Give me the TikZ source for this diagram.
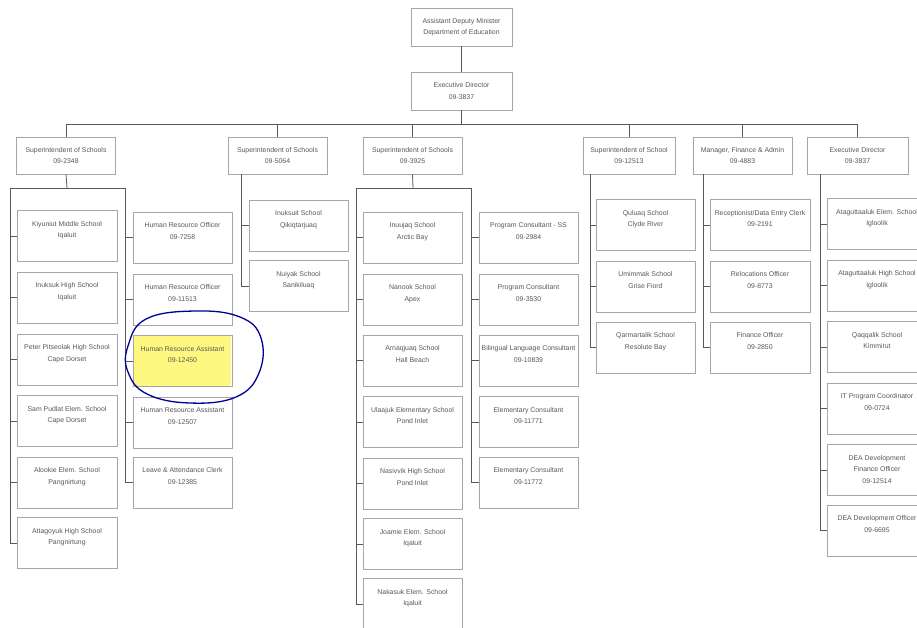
\documentclass[tikz,border=0pt]{standalone}
\usepackage{fontspec}
\setmainfont{Liberation Sans}
\begin{document}
\begin{tikzpicture}[x=1pt,y=-1pt,
  post/.style={draw=black!35, line width=0.7pt, fill=white, text=black!65, align=center,
    font=\fontsize{6.9}{11.5}\selectfont, inner sep=1pt},
  unit/.style={post, minimum width=100pt, minimum height=51pt, text depth=13pt},
  head/.style={post, minimum width=99pt, minimum height=37pt},
  link/.style={draw=black!65, line width=0.8pt}]

\useasboundingbox[fill=white] (0,0) rectangle (917,627);

% top of the chart
\node[post, minimum width=101pt, minimum height=38pt] (adm) at (461.5,27) {Assistant Deputy Minister\\Department of Education};
\node[post, minimum width=101pt, minimum height=38pt] (exec) at (461.5,91) {Executive Director\\09-3837};

\node[head] (sup1) at (66,155.5) {Superintendent of Schools\\09-2348};
\node[head] (sup2) at (277.5,155.5) {Superintendent of Schools\\09-5064};
\node[head] (sup3) at (412.5,155.5) {Superintendent of Schools\\09-3925};
\node[head, minimum width=92pt] (sup4) at (629,155.5) {Superintendent of School\\09-12513};
\node[head] (sup5) at (742.5,155.5) {Manager, Finance \& Admin\\09-4883};
\node[head, minimum width=101pt] (sup6) at (857.5,155.5) {Executive Director\\09-3837};

\coordinate (bar) at (0,124);
\draw[link] (adm.south) -- (exec.north);
\draw[link] (exec.south) -- (exec.south |- bar);
\draw[link] (sup1.north |- bar) -- (sup6.north |- bar);
\foreach \i in {1,...,6}
  \draw[link] (sup\i.north) -- (sup\i.north |- bar);

% first superintendent
\foreach \i/\y/\txt in {1/236/{Kiyuniut Middle School\\Iqaluit},
  2/297.5/{Inuksuk High School\\Iqaluit},
  3/359.5/{Peter Pitseolak High School\\Cape Dorset},
  4/421/{Sam Pudlat Elem. School\\Cape Dorset},
  5/482.5/{Alookie Elem. School\\Pangnirtung},
  6/543/{Attagoyuk High School\\Pangnirtung}}
  \node[unit] (col1L\i) at (67,\y) {\txt};

\foreach \i/\y/\txt in {1/237.5/{Human Resource Officer\\09-7258},
  2/299.5/{Human Resource Officer\\09-11513},
  3/361/{Human Resource Assistant\\09-12450},
  4/422.5/{Human Resource Assistant\\09-12507},
  5/482.5/{Leave \& Attendance Clerk\\09-12385}}
  \node[unit, minimum width=99pt] (col1R\i) at (182.5,\y) {\txt};
\path[fill=yellow!50] (col1R3.north west) ++(1,1) rectangle ([shift={(-1,-1)}]col1R3.south east);
\node[unit, minimum width=99pt, fill=none, draw=none] at (col1R3) {Human Resource Assistant\\09-12450};

\coordinate (col1top) at (67,188);
\coordinate (sp1L) at (10,188);
\coordinate (sp1R) at (125,188);
\draw[link] (sup1.south) -- (col1top);
\draw[link] (sp1L) -- (sp1R);
\draw[link] (sp1L) -- (sp1L |- col1L6.west);
\draw[link] (sp1R) -- (sp1R |- col1R5.west);
\foreach \i in {1,...,6}
  \draw[link] (col1L\i.west -| sp1L) -- (col1L\i.west);
\foreach \i in {1,...,5}
  \draw[link] (col1R\i.west -| sp1R) -- (col1R\i.west);

% second superintendent
\foreach \i/\y/\txt in {1/225.5/{Inuksuit School\\Qikiqtarjuaq},
  2/286/{Nuiyak School\\Sanikiluaq}}
  \node[unit, minimum width=99pt] (col2\i) at (298.5,\y) {\txt};
\coordinate (sp2) at (241,174);
\draw[link] (sp2) -- (sp2 |- col22.west);
\foreach \i in {1,2}
  \draw[link] (col2\i.west -| sp2) -- (col2\i.west);

% third superintendent
\foreach \i/\y/\txt in {1/237.5/{Inuujaq School\\Arctic Bay},
  2/299.5/{Nanook School\\Apex},
  3/360.5/{Arnaqjuaq School\\Hall Beach},
  4/422/{Ulaajuk Elementary School\\Pond Inlet},
  5/483.5/{Nasivvik High School\\Pond Inlet},
  6/544/{Joamie Elem. School\\Iqaluit},
  7/604/{Nakasuk Elem. School\\Iqaluit}}
  \node[unit, minimum width=99pt] (col3L\i) at (412.5,\y) {\txt};

\foreach \i/\y/\txt in {1/237.5/{Program Consultant - SS\\09-2984},
  2/299.5/{Program Consultant\\09-3530},
  3/360.5/{Bilingual Language Consultant\\09-10839},
  4/422/{Elementary Consultant\\09-11771},
  5/482.5/{Elementary Consultant\\09-11772}}
  \node[unit, minimum width=99pt] (col3R\i) at (528.5,\y) {\txt};

\coordinate (col3top) at (413,188);
\coordinate (sp3L) at (356,188);
\coordinate (sp3R) at (471,188);
\draw[link] (sup3.south) -- (col3top);
\draw[link] (sp3L) -- (sp3R);
\draw[link] (sp3L) -- (sp3L |- col3L7.west);
\draw[link] (sp3R) -- (sp3R |- col3R5.west);
\foreach \i in {1,...,7}
  \draw[link] (col3L\i.west -| sp3L) -- (col3L\i.west);
\foreach \i in {1,...,5}
  \draw[link] (col3R\i.west -| sp3R) -- (col3R\i.west);

% fourth and fifth
\foreach \i/\y/\txt in {1/225/{Quluaq School\\Clyde River},
  2/286.5/{Umimmak School\\Grise Fiord},
  3/347.5/{Qarmartalik School\\Resolute Bay}}
  \node[unit, minimum width=99pt] (col4\i) at (645.5,\y) {\txt};

\foreach \i/\y/\txt in {1/225/{Receptionist/Data Entry Clerk\\09-2191},
  2/286.5/{Relocations Officer\\09-8773},
  3/347.5/{Finance Officer\\09-2850}}
  \node[unit] (col5\i) at (760,\y) {\txt};

\coordinate (sp4) at (590,174);
\coordinate (sp5) at (703,174);
\draw[link] (sp4) -- (sp4 |- col43.west);
\draw[link] (sp5) -- (sp5 |- col53.west);
\foreach \i in {1,2,3}
{
\draw[link] (col4\i.west -| sp4) -- (col4\i.west);
\draw[link] (col5\i.west -| sp5) -- (col5\i.west);
}

% sixth
\foreach \i/\y/\txt in {1/224/{Ataguttaaluk Elem. School\\Igloolik},
  2/285.5/{Ataguttaaluk High School\\Igloolik},
  3/347/{Qaqqalik School\\Kimmirut},
  4/408.5/{IT Program Coordinator\\09-0724},
  6/530.5/{DEA Development Officer\\09-6695}}
  \node[unit] (col6\i) at (877,\y) {\txt};
\node[unit, text depth=2pt] (col65) at (877,470) {DEA Development\\Finance Officer\\09-12514};

\coordinate (sp6) at (820,174);
\draw[link] (sp6) -- (sp6 |- col66.west);
\foreach \i in {1,...,6}
  \draw[link] (col6\i.west -| sp6) -- (col6\i.west);

% pen mark round the highlighted post
\draw[blue!60!black, line width=1.3pt, line join=round]
  plot[smooth cycle, tension=0.7] coordinates {(128,346) (146,319) (195,311) (240,317)
  (261,338) (259,373) (236,397) (190,403) (147,394) (128,372)};

\end{tikzpicture}
\end{document}
